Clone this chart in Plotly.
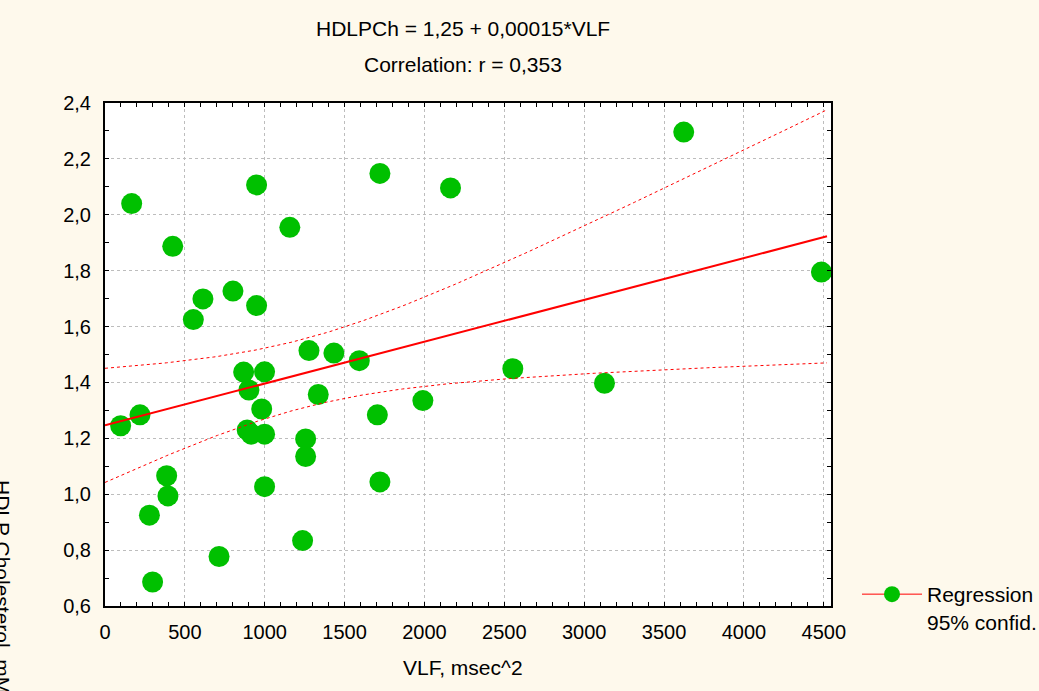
import math
import numpy as np
import plotly.graph_objects as go

# ---- data ----
vlf = [98, 167, 219, 278, 298, 386, 394, 424, 553, 613, 714, 801, 868, 890, 901,
       915, 949, 949, 981, 999, 999, 999, 1157, 1237, 1256, 1256, 1277, 1335, 1433,
       1592, 1705, 1721, 1721, 1990, 2163, 2553, 3127, 3623, 4485]
hdlp = [1.245, 2.04, 1.284, 0.925, 0.686, 1.066, 0.994, 1.887, 1.625, 1.699, 0.777,
        1.727, 1.437, 1.23, 1.373, 1.215, 2.107, 1.675, 1.305, 1.438, 1.215, 1.027,
        1.955, 0.834, 1.198, 1.135, 1.514, 1.357, 1.505, 1.478, 1.284, 2.148, 1.044,
        1.335, 2.096, 1.449, 1.397, 2.296, 1.795]

title_line1 = "HDLPCh = 1,25 + 0,00015*VLF"
title_line2 = "Correlation: r = 0,353"
x_title = "VLF, msec^2"
y_title = "HDLP Cholesterol, mM"
legend_name = "Regression<br>95% confid."

x_range = [0, 4545]
y_range = [0.6, 2.4]
fit_span = [0, 4520]

# ---- regression + 95% confidence band of the mean ----
x = np.array(vlf, float)
y = np.array(hdlp, float)
n = len(x)
b1, b0 = np.polyfit(x, y, 1)
resid = y - (b0 + b1 * x)
s = math.sqrt((resid ** 2).sum() / (n - 2))
xbar = x.mean()
sxx = ((x - xbar) ** 2).sum()


def t_cdf(t, df):
    g = np.linspace(0, t, 4001)
    c = math.exp(math.lgamma((df + 1) / 2) - math.lgamma(df / 2)) / math.sqrt(df * math.pi)
    pdf = c * (1 + g ** 2 / df) ** (-(df + 1) / 2)
    return 0.5 + np.trapezoid(pdf, g)


def t_ppf(p, df):
    lo, hi = 0.0, 10.0
    for _ in range(60):
        mid = (lo + hi) / 2
        if t_cdf(mid, df) < p:
            lo = mid
        else:
            hi = mid
    return (lo + hi) / 2


tq = t_ppf(0.975, n - 2)
xf = np.linspace(fit_span[0], fit_span[1], 200)
yf = b0 + b1 * xf
hw = tq * s * np.sqrt(1 / n + (xf - xbar) ** 2 / sxx)

green = "#00C000"
red = "#FF0000"
font = "Liberation Sans, Arial, sans-serif"

fig = go.Figure()
fig.add_trace(go.Scatter(x=vlf, y=hdlp, mode="markers", showlegend=False,
                         marker=dict(color=green, size=21, line=dict(width=0))))
fig.add_trace(go.Scatter(x=xf, y=yf, mode="lines", showlegend=False,
                         line=dict(color=red, width=2)))
fig.add_trace(go.Scatter(x=xf, y=yf + hw, mode="lines", showlegend=False,
                         line=dict(color=red, width=1, dash="3px,3px")))
fig.add_trace(go.Scatter(x=xf, y=yf - hw, mode="lines", showlegend=False,
                         line=dict(color=red, width=1, dash="3px,3px")))
# legend entry
fig.add_trace(go.Scatter(x=[None], y=[None], mode="lines+markers", name=legend_name,
                         marker=dict(color=green, size=20), line=dict(color=red, width=1)))

axis_common = dict(showline=True, linecolor="black", linewidth=2, mirror="ticks",
                   ticks="inside", ticklen=4, tickcolor="black", tickwidth=1,
                   showgrid=True, gridcolor="#BDBDBD", gridwidth=1, griddash="dot",
                   zeroline=False, tickfont=dict(size=20, color="black", family=font))

fig.update_xaxes(range=x_range, dtick=500, tick0=0, ticklabelstandoff=7,
                 minor=dict(dtick=100, ticks="inside", ticklen=4, tickcolor="black", showgrid=False),
                 **axis_common)
fig.update_yaxes(range=y_range, dtick=0.2, tick0=0.6, tickformat=".1f", ticklabelstandoff=8,
                 minor=dict(dtick=0.1, ticks="inside", ticklen=4, tickcolor="black", showgrid=False),
                 **axis_common)

L, R, T, B = 105, 208, 103, 85
W, H = 1039, 691
pw, ph = W - L - R, H - T - B


def px_x(p):
    return (p - L) / pw


def px_y(p):
    return (H - B - p) / ph


fig.update_layout(
    width=W, height=H, margin=dict(l=L, r=R, t=T, b=B, autoexpand=False),
    paper_bgcolor="#FEF9EC", plot_bgcolor="white",
    separators=", ",
    font=dict(family=font, size=21, color="black"),
    showlegend=True,
    legend=dict(x=px_x(857), y=px_y(574), xanchor="left", yanchor="top",
                bgcolor="rgba(0,0,0,0)", valign="top", itemwidth=60,
                font=dict(size=21, family=font)),
    annotations=[
        dict(text=title_line1, xref="paper", yref="paper", x=px_x(463), y=px_y(29),
             xanchor="center", yanchor="middle", showarrow=False, font=dict(size=21)),
        dict(text=title_line2, xref="paper", yref="paper", x=px_x(463), y=px_y(64),
             xanchor="center", yanchor="middle", showarrow=False, font=dict(size=21)),
        dict(text=x_title, xref="paper", yref="paper", x=px_x(463), y=px_y(667),
             xanchor="center", yanchor="middle", showarrow=False, font=dict(size=21)),
        dict(text=y_title, xref="paper", yref="paper", x=px_x(3), y=px_y(478),
             xanchor="center", yanchor="top", textangle=90, showarrow=False,
             font=dict(size=21)),
    ],
)

fig.write_html("out.html")
